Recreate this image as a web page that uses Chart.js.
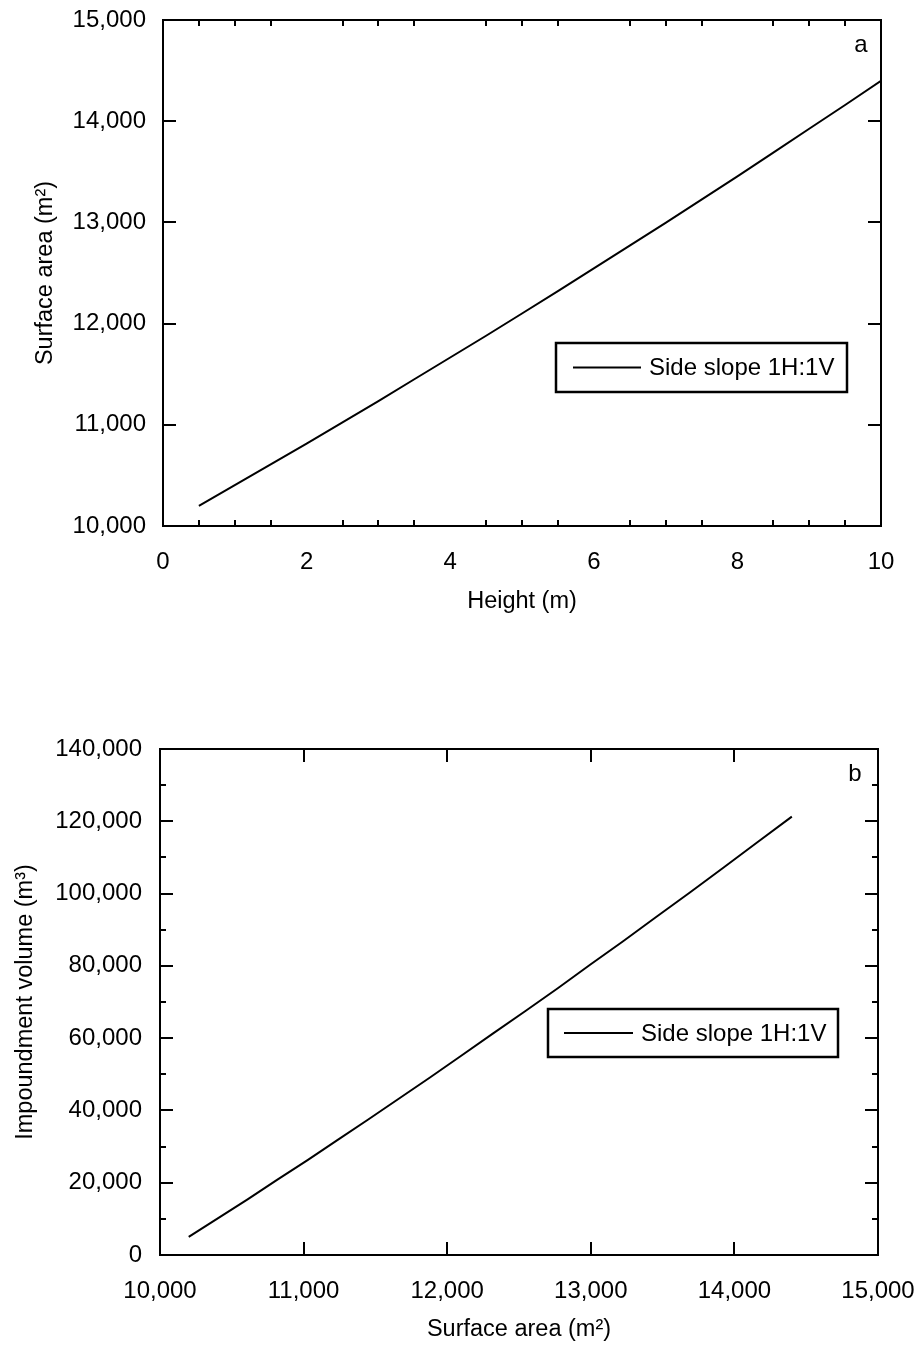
<!DOCTYPE html>
<html>
<head>
<meta charset="utf-8">
<script src="https://cdn.jsdelivr.net/npm/chart.js@4.4.1/dist/chart.umd.min.js"></script>
<style>
  body { margin: 0; background: #fff; }
  #wrapA { position: absolute; left: 0; top: 0; }
  #wrapB { position: absolute; left: 0; top: 680px; }
</style>
</head>
<body>
<div id="wrapA"><canvas id="chartA" width="920" height="625"></canvas></div>
<div id="wrapB"><canvas id="chartB" width="920" height="667"></canvas></div>

<script>
    // pond geometry, side slope 1H:1V
    var heights = [0.5, 1, 1.5, 2, 2.5, 3, 3.5, 4, 4.5, 5, 5.5, 6, 6.5, 7, 7.5, 8, 8.5, 9, 9.5, 10];
    var surfaceAreas = [10200, 10405, 10610, 10815, 11025, 11235, 11450, 11665, 11880, 12100,
                        12320, 12545, 12770, 12995, 13225, 13455, 13690, 13925, 14160, 14400];
    var volumes = [5000, 10200, 15400, 20800, 26200, 31800, 37500, 43300, 49100, 55200,
                   61300, 67500, 73800, 80300, 86800, 93500, 100300, 107200, 114200, 121300];
    var seriesLabel = 'Side slope 1H:1V';

    Chart.defaults.font.family = '"Liberation Sans", Arial, sans-serif';
    Chart.defaults.font.size = 24;
    Chart.defaults.color = '#000';

    function fmt(v) { return v.toLocaleString('en-US'); }

    // box round the plot with inward ticks on all four sides
    var frameTicks = {
        id: 'frameTicks',
        afterDatasetsDraw: function (chart, args, opts) {
            var ctx = chart.ctx, a = chart.chartArea;
            ctx.save();
            ctx.strokeStyle = '#000';
            ctx.lineWidth = 2;
            ctx.beginPath();
            ['x', 'y'].forEach(function (id) {
                var scale = chart.scales[id], cfg = opts[id];
                var marks = [];
                scale.ticks.forEach(function (t) {
                    if (t.value > scale.min && t.value < scale.max) marks.push([t.value, cfg.major]);
                });
                if (cfg.minorStep) {
                    for (var v = scale.min + cfg.minorStep; v < scale.max - 1e-6; v += cfg.minorStep) {
                        var onMajor = scale.ticks.some(function (t) { return Math.abs(t.value - v) < 1e-6; });
                        if (!onMajor) marks.push([v, cfg.minor]);
                    }
                }
                marks.forEach(function (m) {
                    var len = m[1];
                    if (!len) return;
                    var p = Math.round(scale.getPixelForValue(m[0]));
                    if (id === 'x') {
                        ctx.moveTo(p, a.bottom); ctx.lineTo(p, a.bottom - len);
                        ctx.moveTo(p, a.top); ctx.lineTo(p, a.top + len);
                    } else {
                        ctx.moveTo(a.left, p); ctx.lineTo(a.left + len, p);
                        ctx.moveTo(a.right, p); ctx.lineTo(a.right - len, p);
                    }
                });
            });
            ctx.stroke();
            ctx.strokeRect(a.left, a.top, a.right - a.left, a.bottom - a.top);
            ctx.restore();
        }
    };

    // boxed legend and panel letter inside the plot
    var panelLegend = {
        id: 'panelLegend',
        afterDraw: function (chart, args, opts) {
            var ctx = chart.ctx, ds = chart.data.datasets[0];
            ctx.save();
            ctx.strokeStyle = '#000';
            ctx.lineWidth = 2.5;
            ctx.strokeRect(opts.box[0], opts.box[1], opts.box[2], opts.box[3]);
            var cy = opts.box[1] + opts.box[3] / 2;
            ctx.lineWidth = ds.borderWidth;
            ctx.strokeStyle = ds.borderColor;
            ctx.beginPath();
            ctx.moveTo(opts.sample[0], cy);
            ctx.lineTo(opts.sample[1], cy);
            ctx.stroke();
            ctx.fillStyle = '#000';
            ctx.font = '24px "Liberation Sans", Arial, sans-serif';
            ctx.textBaseline = 'middle';
            ctx.textAlign = 'left';
            ctx.fillText(ds.label, opts.sample[1] + 8, cy + 1);
            ctx.textBaseline = 'alphabetic';
            ctx.textAlign = 'center';
            ctx.fillText(opts.letter, opts.letterAt[0], opts.letterAt[1]);
            ctx.restore();
        }
    };

    // fixed axis sizes, no extra room for overhanging tick labels
    function fixAxis(s, prop, size) {
        s[prop] = size;
        s.paddingTop = 0; s.paddingBottom = 0;
        s.paddingLeft = 0; s.paddingRight = 0;
    }

    function makeChart(canvasId, points, xCfg, yCfg, pad, extra) {
        var ctx = document.getElementById(canvasId).getContext('2d');
        return new Chart(ctx, {
            type: 'line',
            data: {
                datasets: [{
                    label: seriesLabel,
                    data: points,
                    borderColor: '#000',
                    borderWidth: 2,
                    pointRadius: 0,
                    tension: 0,
                    fill: false
                }]
            },
            options: {
                responsive: false,
                animation: false,
                layout: { padding: pad },
                plugins: {
                    legend: { display: false },
                    tooltip: { enabled: false },
                    frameTicks: extra.ticks,
                    panelLegend: extra.legend
                },
                scales: {
                    x: {
                        type: 'linear',
                        min: xCfg.min, max: xCfg.max,
                        grid: { display: false, drawTicks: false },
                        border: { display: false },
                        ticks: { stepSize: xCfg.step, padding: xCfg.pad, maxRotation: 0, autoSkip: false,
                                 callback: function (v) { return fmt(v); } },
                        title: { display: true, text: xCfg.title, font: { size: 23.5 },
                                 padding: { top: 0, bottom: xCfg.titlePad } },
                        afterFit: function (s) { fixAxis(s, 'height', xCfg.size); }
                    },
                    y: {
                        type: 'linear',
                        min: yCfg.min, max: yCfg.max,
                        grid: { display: false, drawTicks: false },
                        border: { display: false },
                        ticks: { stepSize: yCfg.step, padding: yCfg.pad,
                                 callback: function (v) { return fmt(v); } },
                        title: { display: true, text: yCfg.title, font: { size: 23.5 },
                                 padding: { top: yCfg.titlePad, bottom: 0 } },
                        afterFit: function (s) { fixAxis(s, 'width', yCfg.size); }
                    }
                }
            },
            plugins: [frameTicks, panelLegend]
        });
    }

    var areaByHeight = heights.map(function (h, i) { return { x: h, y: surfaceAreas[i] }; });
    var volumeByArea = surfaceAreas.map(function (s, i) { return { x: s, y: volumes[i] }; });

    makeChart('chartA', areaByHeight,
        { min: 0, max: 10, step: 2, pad: 22, title: 'Height (m)', titlePad: 9, size: 99 },
        { min: 10000, max: 15000, step: 1000, pad: 17, title: 'Surface area (m\u00B2)', titlePad: 31, size: 163 },
        { top: 20, right: 39, left: 0, bottom: 0 },
        {
            ticks: { x: { major: 0, minorStep: 0.5, minor: 6 }, y: { major: 13 } },
            legend: { box: [556, 343, 291, 49], sample: [573, 641], letter: 'a', letterAt: [861, 52] }
        });

    makeChart('chartB', volumeByArea,
        { min: 10000, max: 15000, step: 1000, pad: 22, title: 'Surface area (m\u00B2)', titlePad: 3, size: 92 },
        { min: 0, max: 140000, step: 20000, pad: 18, title: 'Impoundment volume (m\u00B3)', titlePad: 11, size: 160 },
        { top: 69, right: 42, left: 0, bottom: 0 },
        {
            ticks: { x: { major: 13 }, y: { major: 13, minorStep: 10000, minor: 6 } },
            legend: { box: [548, 329, 290, 48], sample: [564, 633], letter: 'b', letterAt: [855, 101] }
        });
</script>
</body>
</html>
